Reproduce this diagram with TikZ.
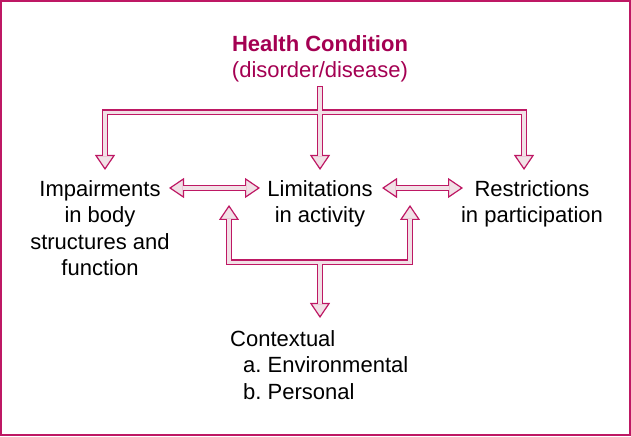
\documentclass[tikz,border=0pt]{standalone}
\usepackage{fontspec}
\setmainfont{Liberation Sans}
\usepackage{tikz}
\usetikzlibrary{arrows.meta}
\definecolor{icfred}{RGB}{190, 24, 100}
\definecolor{icfdark}{RGB}{164, 0, 82}
\definecolor{icfpale}{RGB}{241, 225, 230}
\frenchspacing

\begin{document}
\begin{tikzpicture}[
    x=1pt, y=1pt,
    txt/.style={font=\fontsize{22}{26.5}\selectfont, inner sep=0pt, align=center, anchor=north},
    shaftout/.style={draw=icfred, line width=6pt},
    shaftin/.style={draw=icfpale, line width=3.6pt},
    head/.style={draw=icfred, line width=1.2pt},
    tip/.style={head, -{Triangle[length=15pt, width=20pt, fill=icfpale]}},
    tips/.style={head, {Triangle[length=15pt, width=20pt, fill=icfpale]}-{Triangle[length=15pt, width=20pt, fill=icfpale]}},
]
    % Frame
    \useasboundingbox (0,0) rectangle (631,436);
    \draw[icfred, line width=2pt] (1,1) rectangle (630,435);

    % Labels
    \node[txt, text=icfdark] (hc) at (320,401) {\textbf{Health Condition}\\(disorder/disease)};
    \node[txt] (imp) at (100,256) {Impairments\\in body\\structures and\\function};
    \node[txt] (lim) at (320,256) {Limitations\\in activity};
    \node[txt] (res) at (532,256) {Restrictions\\in participation};
    \node[txt, anchor=north west, align=left] (ctx) at (230,106)
        {Contextual\\\hspace*{13pt}a. Environmental\\\hspace*{13pt}b. Personal};

    % Arrow ends
    \coordinate (stem) at (320,350);
    \coordinate (topL) at (105,323.5);
    \coordinate (topR) at (524,323.5);
    \coordinate (toImp) at (105,266);
    \coordinate (toLim) at (320,266);
    \coordinate (toRes) at (524,266);
    \coordinate (impR) at (169,248);
    \coordinate (limL) at (260,248);
    \coordinate (limR) at (382,248);
    \coordinate (resL) at (463,248);
    \coordinate (upL) at (229,231);
    \coordinate (upR) at (410,231);
    \coordinate (botL) at (229,173.5);
    \coordinate (botM) at (320,173.5);
    \coordinate (botR) at (410,173.5);
    \coordinate (toCtx) at (320,118);

    % Heads
    \draw[tip] (stem) -- (toLim);
    \draw[tips] (toImp) -- (topL) -- (topR) -- (toRes);
    \draw[tips] (impR) -- (limL);
    \draw[tips] (limR) -- (resL);
    \draw[tips] (upL) -- (botL) -- (botR) -- (upR);
    \draw[tip] (botM) -- (toCtx);

    % Shafts, outline then inside
    \foreach \s/\gap in {shaftout/0pt, shaftin/1.2pt} {
        \draw[\s, shorten <=\gap, shorten >=14pt] (stem) -- (toLim);
        \draw[\s, shorten <=14pt, shorten >=14pt] (toImp) -- (topL) -- (topR) -- (toRes);
        \draw[\s, shorten <=14pt, shorten >=14pt] (impR) -- (limL);
        \draw[\s, shorten <=14pt, shorten >=14pt] (limR) -- (resL);
        \draw[\s, shorten <=14pt, shorten >=14pt] (upL) -- (botL) -- (botR) -- (upR);
        \draw[\s, shorten >=14pt] (botM) -- (toCtx);
    }
\end{tikzpicture}
\end{document}
